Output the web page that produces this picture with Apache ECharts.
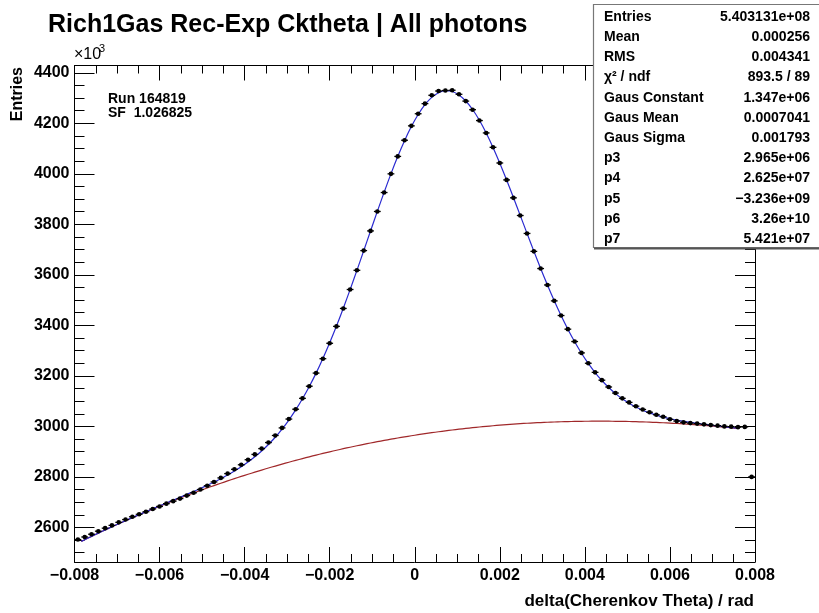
<!DOCTYPE html>
<html>
<head>
<meta charset="utf-8">
<script src="https://cdn.jsdelivr.net/npm/echarts@6/dist/echarts.min.js"></script>
<style>
html,body{margin:0;padding:0;background:#fff;}
#chart{width:819px;height:613px;}
</style>
</head>
<body>
<div id="chart"></div>
<script>
// ---------- data ----------
const titleText = 'Rich1Gas Rec-Exp Cktheta | All photons';
const xAxisName = 'delta(Cherenkov Theta) / rad';
const yAxisName = 'Entries';
const yScaleNote = '\u00d710\u00b3';
const infoLines = ['Run 164819', 'SF  1.026825'];

const statLabels = ['Entries','Mean','RMS','\u03c7\u00b2 / ndf','Gaus Constant','Gaus Mean','Gaus Sigma','p3','p4','p5','p6','p7'];
const statValues = ['5.403131e+08','0.000256','0.004341','893.5 / 89','1.347e+06','0.0007041','0.001793','2.965e+06','2.625e+07','\u22123.236e+09','3.26e+10','5.421e+07'];

const xMajorTicks = [-0.008,-0.006,-0.004,-0.002,0,0.002,0.004,0.006,0.008];
const xTickLabels = ['\u22120.008','\u22120.006','\u22120.004','\u22120.002','0','0.002','0.004','0.006','0.008'];
const yMajorTicks = [2600,2800,3000,3200,3400,3600,3800,4000,4200,4400];
const yTickLabels = ['2600','2800','3000','3200','3400','3600','3800','4000','4200','4400'];
const yMinorTicks = [2500,2550,2650,2700,2750,2850,2900,2950,3050,3100,3150,3250,3300,3350,3450,3500,3550,3650,3700,3750,3850,3900,3950,4050,4100,4150,4250,4300,4350];

// histogram bin centres (rad) and contents (x10^3 entries)
const binX = [
-0.00792,-0.00776,-0.00760,-0.00744,-0.00728,-0.00712,-0.00696,-0.00680,-0.00664,-0.00648,
-0.00632,-0.00616,-0.00600,-0.00584,-0.00568,-0.00552,-0.00536,-0.00520,-0.00504,-0.00488,
-0.00472,-0.00456,-0.00440,-0.00424,-0.00408,-0.00392,-0.00376,-0.00360,-0.00344,-0.00328,
-0.00312,-0.00296,-0.00280,-0.00264,-0.00248,-0.00232,-0.00216,-0.00200,-0.00184,-0.00168,
-0.00152,-0.00136,-0.00120,-0.00104,-0.00088,-0.00072,-0.00056,-0.00040,-0.00024,-0.00008,
0.00008,0.00024,0.00040,0.00056,0.00072,0.00088,0.00104,0.00120,0.00136,0.00152,
0.00168,0.00184,0.00200,0.00216,0.00232,0.00248,0.00264,0.00280,0.00296,0.00312,
0.00328,0.00344,0.00360,0.00376,0.00392,0.00408,0.00424,0.00440,0.00456,0.00472,
0.00488,0.00504,0.00520,0.00536,0.00552,0.00568,0.00584,0.00600,0.00616,0.00632,
0.00648,0.00664,0.00680,0.00696,0.00712,0.00728,0.00744,0.00760,0.00776,0.00792];
const binHalfWidth = 0.00008;
const counts = [
2552,2562,2573,2585,2597,2608,2620,2631,2642,2652,
2662,2673,2683,2694,2704,2714,2726,2737,2750,2765,
2780,2796,2813,2830,2848,2868,2889,2912,2936,2964,
2994,3029,3068,3111,3159,3211,3268,3329,3396,3467,
3542,3618,3696,3774,3851,3926,4000,4069,4133,4190,
4238,4278,4311,4328,4330,4331,4315,4288,4254,4211,
4162,4105,4043,3976,3905,3835,3764,3693,3625,3560,
3497,3439,3385,3336,3291,3250,3214,3183,3156,3132,
3111,3095,3080,3067,3056,3046,3038,3028,3021,3016,
3013,3011,3008,3005,3003,3000,2999,2997,2998,2800];

// fit curves (total = gaus + pol4, background = pol4), sampled over the fit range
const fitX = [
-0.00784,-0.00776,-0.00760,-0.00744,-0.00728,-0.00712,-0.00696,-0.00680,-0.00664,-0.00648,
-0.00632,-0.00616,-0.00600,-0.00584,-0.00568,-0.00552,-0.00536,-0.00520,-0.00504,-0.00488,
-0.00472,-0.00456,-0.00440,-0.00424,-0.00408,-0.00392,-0.00376,-0.00360,-0.00344,-0.00328,
-0.00312,-0.00296,-0.00280,-0.00264,-0.00248,-0.00232,-0.00216,-0.00200,-0.00184,-0.00168,
-0.00152,-0.00136,-0.00120,-0.00104,-0.00088,-0.00072,-0.00056,-0.00040,-0.00024,-0.00008,
0.00008,0.00024,0.00040,0.00056,0.00072,0.00088,0.00104,0.00120,0.00136,0.00152,
0.00168,0.00184,0.00200,0.00216,0.00232,0.00248,0.00264,0.00280,0.00296,0.00312,
0.00328,0.00344,0.00360,0.00376,0.00392,0.00408,0.00424,0.00440,0.00456,0.00472,
0.00488,0.00504,0.00520,0.00536,0.00552,0.00568,0.00584,0.00600,0.00616,0.00632,
0.00648,0.00664,0.00680,0.00696,0.00712,0.00728,0.00744,0.00760];
const fitTotal = [
2544.6,2551.2,2564.3,2577.2,2589.9,2602.4,2614.6,2626.8,2638.8,2650.5,
2662.3,2673.8,2685.2,2696.5,2707.9,2719.3,2730.7,2742.4,2754.3,2766.6,
2779.5,2793.0,2807.5,2823.1,2840.1,2858.8,2879.5,2902.6,2928.3,2956.9,
2989.2,3025.1,3065.1,3109.3,3157.8,3210.9,3269.0,3331.4,3397.6,3468.0,
3541.7,3617.7,3695.3,3773.5,3851.2,3927.0,4000.0,4068.4,4131.1,4187.1,
4234.9,4273.8,4302.7,4321.4,4329.2,4326.1,4312.4,4288.4,4254.7,4212.1,
4161.6,4104.6,4042.1,3975.7,3906.3,3835.5,3764.4,3694.0,3625.5,3559.8,
3497.3,3438.8,3384.7,3334.9,3289.8,3249.3,3213.3,3181.6,3153.9,3129.8,
3109.2,3091.7,3076.7,3064.1,3053.3,3044.4,3036.7,3030.2,3024.6,3019.9,
3015.6,3011.8,3008.3,3005.0,3001.8,2998.8,2995.8,2992.7];
const fitBackground = [
2544.6,2551.2,2564.3,2577.2,2589.8,2602.3,2614.5,2626.6,2638.5,2650.1,
2661.7,2672.9,2684.0,2694.8,2705.5,2716.0,2726.3,2736.4,2746.3,2756.0,
2765.6,2774.9,2784.1,2793.0,2801.8,2810.4,2818.8,2827.0,2835.1,2842.9,
2850.6,2858.1,2865.4,2872.6,2879.5,2886.3,2892.9,2899.3,2905.5,2911.6,
2917.5,2923.2,2928.8,2934.2,2939.4,2944.4,2949.3,2954.0,2958.5,2962.9,
2967.1,2971.1,2975.0,2978.7,2982.2,2985.6,2988.8,2991.9,2994.8,2997.5,
3000.1,3002.5,3004.8,3006.9,3008.9,3010.7,3012.4,3013.8,3015.2,3016.4,
3017.4,3018.3,3019.1,3019.7,3020.1,3020.4,3020.6,3020.6,3020.5,3020.2,
3019.8,3019.3,3018.6,3017.8,3016.8,3015.7,3014.4,3013.0,3011.5,3009.9,
3008.1,3006.2,3004.1,3001.9,2999.6,2997.2,2994.6,2991.9];

// ---------- chart ----------
const FONT = 'Liberation Sans, Arial, Helvetica, sans-serif';
const X_MIN = -0.008, X_MAX = 0.008, Y_MIN = 2463, Y_MAX = 4429;

const chart = echarts.init(document.getElementById('chart'), null, {renderer: 'canvas'});

function pairs(xs, ys) { return xs.map((x, i) => [x, ys[i]]); }

function xLabelFor(v) {
  const idx = xMajorTicks.findIndex(t => Math.abs(t - v) < 1e-9);
  return idx >= 0 ? xTickLabels[idx] : '';
}
function yLabelFor(v) {
  const idx = yMajorTicks.findIndex(t => Math.abs(t - v) < 1e-6);
  return idx >= 0 ? yTickLabels[idx] : '';
}

const tickLine = {color: '#000', width: 1};

const graphics = [
  {type: 'text', left: 48, top: 13, style: {text: titleText, font: 'bold 25px ' + FONT, fill: '#000'}},
  {type: 'text', x: 74, y: 55, style: {text: '\u00d710', font: '16px ' + FONT, fill: '#000', textVerticalAlign: 'middle'}},
  {type: 'text', x: 99, y: 49, style: {text: '3', font: '11px ' + FONT, fill: '#000', textVerticalAlign: 'middle'}},
  {type: 'text', x: 18, y: 67, rotation: Math.PI / 2, style: {text: yAxisName, font: 'bold 16px ' + FONT, fill: '#000', textAlign: 'right', textVerticalAlign: 'middle'}},
  {type: 'text', x: 754, y: 601, style: {text: xAxisName, font: 'bold 17px ' + FONT, fill: '#000', textAlign: 'right', textVerticalAlign: 'middle'}},
  {type: 'text', x: 108, y: 99, style: {text: infoLines[0], font: 'bold 14px ' + FONT, fill: '#000', textVerticalAlign: 'middle'}},
  {type: 'text', x: 108, y: 113, style: {text: infoLines[1], font: 'bold 14px ' + FONT, fill: '#000', textVerticalAlign: 'middle'}},
  {type: 'rect', shape: {x: 593.5, y: 4.5, width: 240, height: 243}, style: {fill: '#fff', stroke: '#777', lineWidth: 1.2}, z: 100},
  {type: 'line', shape: {x1: 594, y1: 248.5, x2: 819, y2: 248.5}, style: {stroke: '#555', lineWidth: 2}, z: 100}
];
const rowY0 = 17, rowStep = 20.2;
statLabels.forEach((lab, i) => {
  graphics.push({type: 'text', x: 604, y: rowY0 + i * rowStep, z: 101,
    style: {text: lab, font: 'bold 14px ' + FONT, fill: '#000', textVerticalAlign: 'middle'}});
  graphics.push({type: 'text', x: 810, y: rowY0 + i * rowStep, z: 101,
    style: {text: statValues[i], font: 'bold 14px ' + FONT, fill: '#000', textAlign: 'right', textVerticalAlign: 'middle'}});
});

function yAxisDef(position, ticks, len, showLabel, showLine) {
  return {
    type: 'value', position: position, min: Y_MIN, max: Y_MAX,
    axisLine: {show: showLine, onZero: false, lineStyle: {color: '#000', width: 1}},
    axisTick: {show: true, inside: true, length: len, customValues: ticks, lineStyle: tickLine},
    axisLabel: {show: showLabel, customValues: ticks, inside: false, margin: 5, formatter: yLabelFor,
      color: '#000', fontWeight: 'bold', fontSize: 16, fontFamily: FONT},
    splitLine: {show: false}
  };
}
function xAxisDef(position, showLabel) {
  return {
    type: 'value', position: position, min: X_MIN, max: X_MAX, interval: 0.002,
    axisLine: {show: true, onZero: false, lineStyle: {color: '#000', width: 1}},
    axisTick: {show: true, inside: true, length: 15, lineStyle: tickLine},
    minorTick: {show: true, splitNumber: 4, length: 8, lineStyle: tickLine},
    axisLabel: {show: showLabel, margin: 6, formatter: xLabelFor,
      color: '#000', fontWeight: 'bold', fontSize: 16, fontFamily: FONT},
    splitLine: {show: false}, minorSplitLine: {show: false}
  };
}

const option = {
  animation: false,
  backgroundColor: '#fff',
  grid: {left: 74.5, right: 64, top: 65.5, bottom: 51, containLabel: false, outerBoundsMode: 'none'},
  xAxis: [xAxisDef('bottom', true), xAxisDef('top', false)],
  yAxis: [
    yAxisDef('left', yMajorTicks, 20, true, true),
    yAxisDef('left', yMinorTicks, 10, false, false),
    yAxisDef('right', yMajorTicks, 20, false, true),
    yAxisDef('right', yMinorTicks, 10, false, false)
  ],
  graphic: graphics,
  series: [
    {type: 'line', name: 'background', data: pairs(fitX, fitBackground), xAxisIndex: 0, yAxisIndex: 0,
      showSymbol: false, smooth: 0.3, lineStyle: {color: '#a0282a', width: 1.2}, z: 2, silent: true},
    {type: 'line', name: 'fit', data: pairs(fitX, fitTotal), xAxisIndex: 0, yAxisIndex: 0,
      showSymbol: false, smooth: 0.3, lineStyle: {color: '#2a2ad0', width: 1.2}, z: 3, silent: true},
    {type: 'custom', name: 'data', xAxisIndex: 0, yAxisIndex: 0, z: 4,
      data: pairs(binX, counts),
      renderItem: function (params, api) {
        const x = api.value(0), y = api.value(1);
        const p = api.coord([x, y]);
        const pl = api.coord([x - binHalfWidth, y]);
        const pr = api.coord([x + binHalfWidth, y]);
        return {type: 'group', children: [
          {type: 'line', shape: {x1: pl[0], y1: pl[1], x2: pr[0], y2: pr[1]}, style: {stroke: '#000', lineWidth: 1.3}},
          {type: 'circle', shape: {cx: p[0], cy: p[1], r: 2.3}, style: {fill: '#000'}}
        ]};
      }
    }
  ]
};
chart.setOption(option);
</script>
</body>
</html>
